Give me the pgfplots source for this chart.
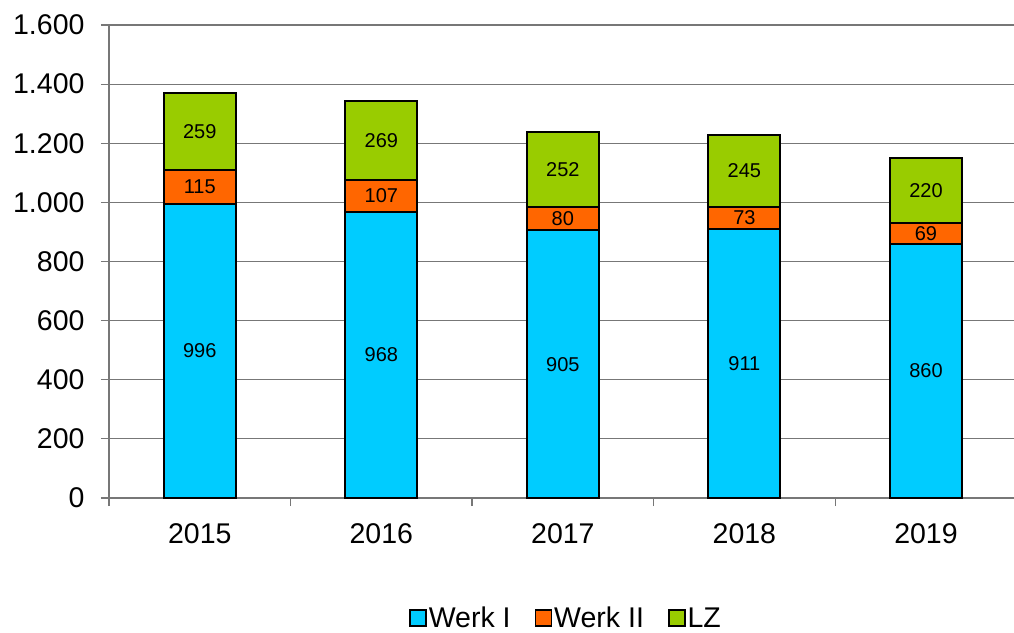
\documentclass[border=0pt]{standalone}
\usepackage{pgfplots}
\pgfplotsset{compat=1.18}
\usepackage{fontspec}
\setmainfont{Liberation Sans}
\usetikzlibrary{calc}
\definecolor{cW}{HTML}{00CCFF}
\definecolor{cO}{HTML}{FF6600}
\definecolor{cG}{HTML}{99CC00}
\definecolor{gl}{HTML}{777777}
\begin{document}
\begin{tikzpicture}
\begin{axis}[
  scale only axis, width=905pt, height=473pt,
  ybar stacked, bar width=72pt,
  xmin=-0.5, xmax=4.485, ymin=0, ymax=1600,
  xtick={0,1,2,3,4}, xticklabels={2015,2016,2017,2018,2019},
  major x tick style={draw=none},
  minor xtick={-0.5,0.5,1.5,2.5,3.5},
  minor tick length=8pt,
  ytick={0,200,...,1600},
  major tick length=8pt,
  tick align=outside,
  tick style={gl, line width=1.2pt},
  axis x line*=bottom, axis y line*=left,
  axis line style={gl, line width=1.2pt},
  ymajorgrids, major grid style={gl, line width=1.2pt},
  /pgf/number format/1000 sep={.},
  /pgf/number format/assume math mode=true,
  tick label style={font=\fontsize{28.5}{33}\selectfont},
  yticklabel style={xshift=-13pt},
  xticklabel style={yshift=-14pt},
  point meta=rawy,
  nodes near coords,
  every node near coord/.append style={font=\fontsize{20}{24}\selectfont, anchor=center, text=black},
  legend style={at={(0.505,-0.254)}, anchor=center, draw=none, legend columns=-1,
    font=\fontsize{28.5}{33}\selectfont,
    /tikz/every even column/.append style={column sep=22pt}},
  legend image code/.code={\draw[#1, line width=1.6pt] (0pt,-8pt) rectangle (16pt,8pt);},
  every axis plot/.append style={draw=black, line width=2pt},
]
\addplot[fill=cW] coordinates {(0,996) (1,968) (2,905) (3,911) (4,860)};
\addplot[fill=cO] coordinates {(0,115) (1,107) (2,80) (3,73) (4,69)};
\addplot[fill=cG] coordinates {(0,259) (1,269) (2,252) (3,245) (4,220)};
\legend{Werk I, Werk II, LZ}
\coordinate (bl) at (rel axis cs:0,0);
\end{axis}
\pgfresetboundingbox
\path[use as bounding box] ($(bl)+(-109pt,-134pt)$) rectangle ($(bl)+(905pt,498pt)$);
\end{tikzpicture}
\end{document}
